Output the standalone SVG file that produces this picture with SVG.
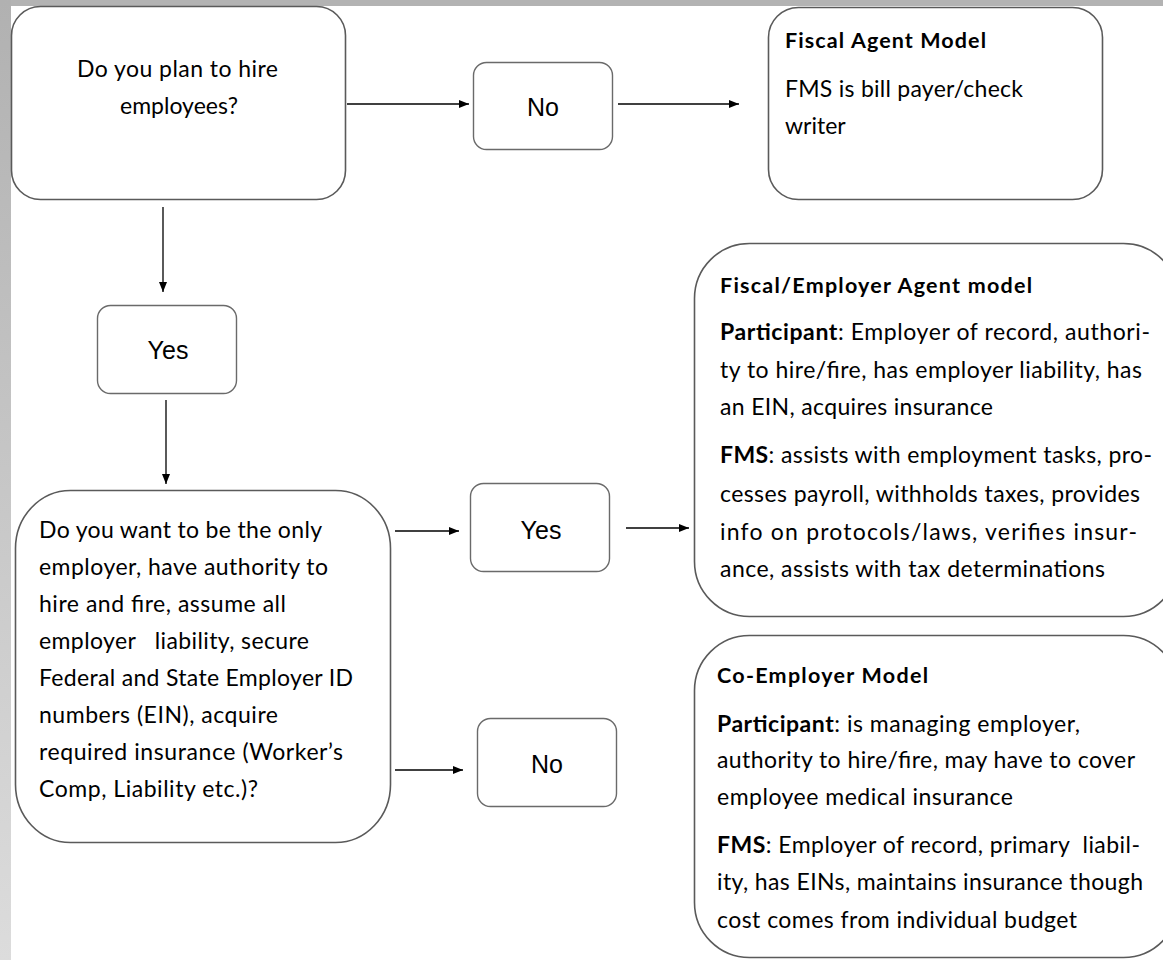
<svg xmlns="http://www.w3.org/2000/svg" width="1163" height="960" viewBox="0 0 1163 960">
<defs>
<linearGradient id="side" x1="0" y1="0" x2="0" y2="1">
<stop offset="0" stop-color="#b1b1b1"/>
<stop offset="1" stop-color="#dcdcdc"/>
</linearGradient>
<marker id="ah" viewBox="0 0 10 8" refX="10" refY="4" markerWidth="10" markerHeight="8" markerUnits="userSpaceOnUse" orient="auto">
<path d="M0,0 L10,4 L0,8 Z" fill="#000"/>
</marker>
<style>
.box{fill:#fff;stroke:#5a5a5a;stroke-width:1.6}
.sbox{fill:#fff;stroke:#6a6a6a;stroke-width:1.4}
.t{font-family:Lato,"Liberation Sans",sans-serif;font-size:23px;fill:#000}
.h{font-family:Lato,"Liberation Sans",sans-serif;font-size:21.5px;font-weight:bold;fill:#000}
.b{font-weight:bold}
.yn{font-family:"Liberation Sans",Arial,sans-serif;font-size:25px;fill:#000;text-anchor:middle}
.c{fill:none;stroke:#000;stroke-width:1.3;marker-end:url(#ah)}
</style>
</defs>
<rect x="0" y="0" width="1163" height="960" fill="#fff"/>
<rect x="0" y="0" width="1163" height="6" fill="#b3b3b3"/>
<rect x="0" y="0" width="11" height="960" fill="url(#side)"/>

<g id="connectors">
<line class="c" x1="347" y1="104" x2="469" y2="104"/>
<line class="c" x1="618" y1="104" x2="739" y2="104"/>
<line class="c" x1="163" y1="207" x2="163" y2="292"/>
<line class="c" x1="166" y1="400" x2="166" y2="484"/>
<line class="c" x1="395" y1="531" x2="459" y2="531"/>
<line class="c" x1="626" y1="528" x2="689" y2="528"/>
<line class="c" x1="395" y1="770" x2="463" y2="770"/>
</g>

<g id="q1">
<rect class="box" x="11.5" y="6.5" width="334" height="193" rx="29" ry="29"/>
<text class="t" x="77" y="77" textLength="201" lengthAdjust="spacing">Do you plan to hire</text>
<text class="t" x="179" y="114" text-anchor="middle">employees?</text>
</g>

<g id="no1">
<rect class="sbox" x="473.5" y="62.5" width="139" height="87" rx="13" ry="13"/>
<text class="yn" x="543" y="116">No</text>
</g>

<g id="fiscal-agent">
<rect class="box" x="768.5" y="7.5" width="334" height="192" rx="30" ry="30"/>
<text class="h" x="785" y="48" textLength="201" lengthAdjust="spacing">Fiscal Agent Model</text>
<text class="t" x="785" y="97" textLength="238" lengthAdjust="spacing">FMS is bill payer/check</text>
<text class="t" x="785" y="134">writer</text>
</g>

<g id="yes1">
<rect class="sbox" x="97.5" y="305.5" width="139" height="88" rx="13" ry="13"/>
<text class="yn" x="168" y="359">Yes</text>
</g>

<g id="q2">
<rect class="box" x="15.5" y="490.5" width="375" height="352" rx="55" ry="58"/>
<text class="t" x="39" y="538" textLength="283" lengthAdjust="spacing">Do you want to be the only</text>
<text class="t" x="39" y="575" textLength="289" lengthAdjust="spacing">employer, have authority to</text>
<text class="t" x="39" y="612" textLength="247" lengthAdjust="spacing">hire and fire, assume all</text>
<text class="t" x="39" y="649" xml:space="preserve" textLength="270" lengthAdjust="spacing">employer   liability, secure</text>
<text class="t" x="39" y="686" textLength="314" lengthAdjust="spacing">Federal and State Employer ID</text>
<text class="t" x="39" y="723" textLength="239" lengthAdjust="spacing">numbers (EIN), acquire</text>
<text class="t" x="39" y="760" textLength="304" lengthAdjust="spacing">required insurance (Worker’s</text>
<text class="t" x="39" y="797" textLength="219" lengthAdjust="spacing">Comp, Liability etc.)?</text>
</g>

<g id="yes2">
<rect class="sbox" x="470.5" y="483.5" width="139" height="88" rx="13" ry="13"/>
<text class="yn" x="541" y="539">Yes</text>
</g>

<g id="no2">
<rect class="sbox" x="477.5" y="718.5" width="139" height="88" rx="13" ry="13"/>
<text class="yn" x="547" y="773">No</text>
</g>

<g id="fiscal-employer">
<rect class="box" x="694.5" y="243.5" width="484" height="373" rx="55" ry="55"/>
<text class="h" x="720" y="293" textLength="312" lengthAdjust="spacing">Fiscal/Employer Agent model</text>
<text class="t" x="720" y="340" textLength="430" lengthAdjust="spacing"><tspan class="b">Participant</tspan>: Employer of record, authori-</text>
<text class="t" x="720" y="378" textLength="422" lengthAdjust="spacing">ty to hire/fire, has employer liability, has</text>
<text class="t" x="720" y="415" textLength="273" lengthAdjust="spacing">an EIN, acquires insurance</text>
<text class="t" x="720" y="463" textLength="432" lengthAdjust="spacing"><tspan class="b">FMS</tspan>: assists with employment tasks, pro-</text>
<text class="t" x="720" y="502" textLength="420" lengthAdjust="spacing">cesses payroll, withholds taxes, provides</text>
<text class="t" x="720" y="540" textLength="417" lengthAdjust="spacing">info on protocols/laws, verifies insur-</text>
<text class="t" x="720" y="577" textLength="385" lengthAdjust="spacing">ance, assists with tax determinations</text>
</g>

<g id="co-employer">
<rect class="box" x="694.5" y="635.5" width="484" height="322" rx="55" ry="55"/>
<text class="h" x="717" y="683" textLength="211" lengthAdjust="spacing">Co-Employer Model</text>
<text class="t" x="717" y="732" textLength="363" lengthAdjust="spacing"><tspan class="b">Participant</tspan>: is managing employer,</text>
<text class="t" x="717" y="768" textLength="418" lengthAdjust="spacing">authority to hire/fire, may have to cover</text>
<text class="t" x="717" y="805" textLength="296" lengthAdjust="spacing">employee medical insurance</text>
<text class="t" x="717" y="853" xml:space="preserve" textLength="423" lengthAdjust="spacing"><tspan class="b">FMS</tspan>: Employer of record, primary  liabil-</text>
<text class="t" x="717" y="890" textLength="426" lengthAdjust="spacing">ity, has EINs, maintains insurance though</text>
<text class="t" x="717" y="928" textLength="360" lengthAdjust="spacing">cost comes from individual budget</text>
</g>
</svg>
